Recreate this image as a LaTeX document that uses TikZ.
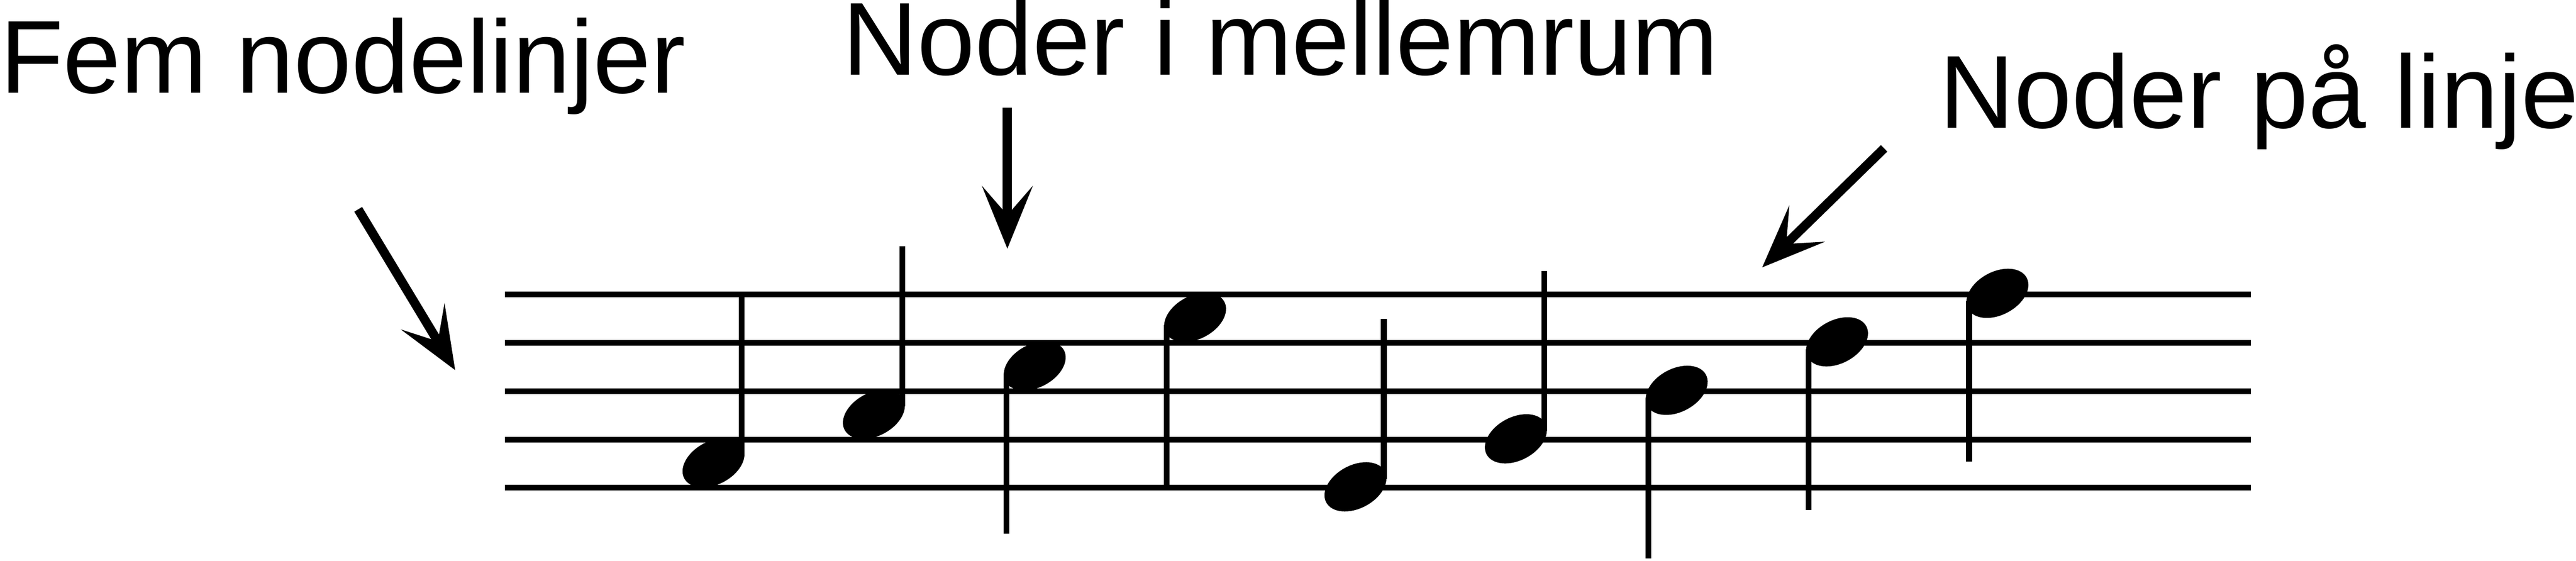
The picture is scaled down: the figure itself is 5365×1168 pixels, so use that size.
\documentclass[tikz,border=0pt]{standalone}
\usepackage{fontspec}
\setmainfont{Liberation Sans}
\usetikzlibrary{arrows.meta,calc}
\begin{document}
\begin{tikzpicture}[x=0.1pt,y=0.1pt,
  label/.style={anchor=base west,inner sep=0pt,outer sep=0pt,font=\fontsize{21.6pt}{26pt}\selectfont},
  staffline/.style={line width=1.2pt},
  stem/.style={line width=1.2pt},
  pointer/.style={line width=1.9pt,-{Stealth[length=13pt,width=10.5pt,inset=6pt]}},
  head/.style={fill=black}]
\useasboundingbox (0,0) rectangle (5365,-1168);
% staff
\foreach \y in {613,714,815,916,1016}
  \draw[staffline] (1052,-\y) -- (4688,-\y);
% labels
\node[label] (t1) at (0,-194) {Fem nodelinjer};
\node[label] (t2) at (1755,-156) {Noder i mellemrum};
\node[label] (t3) at (4039,-267) {Noder på linje};
% arrows
\coordinate (a1s) at (746,-436); \coordinate (a1e) at (948,-771);
\coordinate (a2s) at (2098,-224); \coordinate (a2e) at (2098,-518);
\coordinate (a3s) at (3924,-309); \coordinate (a3e) at (3670,-557);
\draw[pointer] (a1s) -- (a1e);
\draw[pointer] (a2s) -- (a2e);
\draw[pointer] (a3s) -- (a3e);
% notes: x, y, stem direction (1 up, -1 down)
\foreach \x/\y/\d [count=\i] in {1486/964/1,1820/863/1,2155/762/-1,2489/661/-1,2823/1014/1,3157/914/1,3492/813/-1,3826/712/-1,4160/611/-1}{
  \coordinate (n\i) at (\x,-\y);
  \fill[head,rotate around={28:(n\i)}] (n\i) ellipse [x radius=6.9pt,y radius=4.5pt];
  \draw[stem] ($(n\i)+(59*\d,16*\d)$) -- ($(n\i)+(59*\d,350*\d)$);
}
\end{tikzpicture}
\end{document}
